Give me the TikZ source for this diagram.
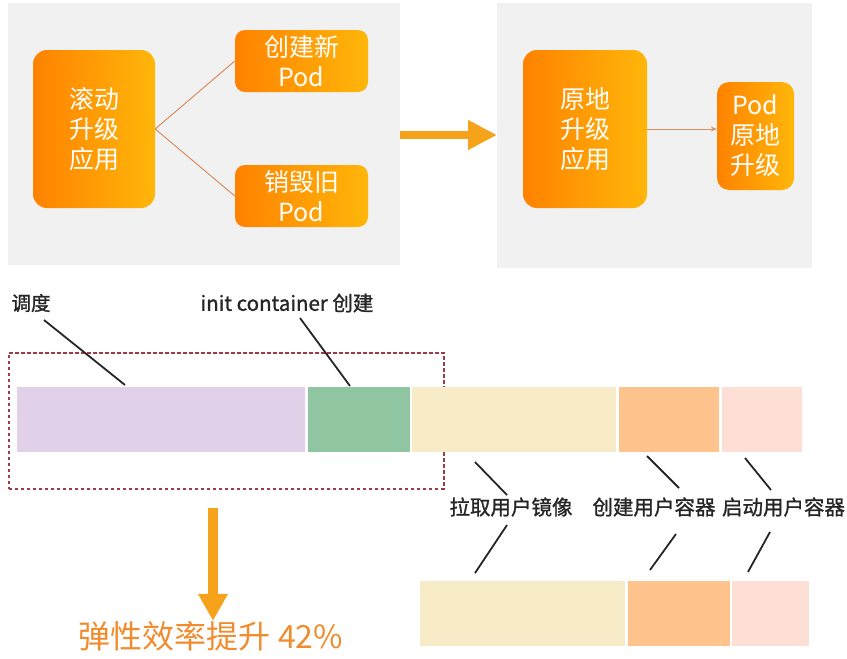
\documentclass[tikz,border=0pt]{standalone}
\usepackage{fontspec}
\setmainfont{Noto Sans CJK SC}
\newfontfamily\boldishfont[FakeBold=1.2]{Noto Sans CJK SC}
\usetikzlibrary{arrows.meta, positioning}
\definecolor{panelGray}{HTML}{F1F1F1}
\definecolor{orangeDeep}{HTML}{FF8200}
\definecolor{orangeLight}{HTML}{FFB60A}
\definecolor{linkBrown}{HTML}{D98E62}
\definecolor{arrowOrange}{HTML}{F7A21B}
\definecolor{frameRed}{HTML}{A33B45}
\definecolor{schedPurple}{HTML}{E0D1E9}
\definecolor{initGreen}{HTML}{8FC6A1}
\definecolor{pullYellow}{HTML}{F7ECC7}
\definecolor{createOrange}{HTML}{FFC48D}
\definecolor{startPink}{HTML}{FDDFD5}
\definecolor{gainOrange}{HTML}{F08C2E}
\newcommand{\bigFont}{\fontsize{25}{30}\selectfont}
\newcommand{\lblFont}{\boldishfont\fontsize{19.5}{22}\selectfont}

\begin{document}
\begin{tikzpicture}[x=1pt, y=-1pt,
  panel/.style={fill=panelGray, draw=none, inner sep=0pt},
  appbox/.style={rounded corners=14pt, left color=orangeDeep, right color=orangeLight,
    text=white, align=center, font=\bigFont, inner sep=0pt},
  bar/.style={draw=none, inner sep=0pt, minimum height=65pt},
  leader/.style={line width=1.8pt, black!85},
  lbl/.style={font=\lblFont, inner sep=0pt, text=black!85}]
  \useasboundingbox (0,0) rectangle (847,659);

  % top: rolling update vs in-place update
  \node[panel, minimum width=392pt, minimum height=262pt, anchor=north west] (leftPanel) at (8,3) {};
  \node[panel, minimum width=315pt, minimum height=265pt, anchor=north west] (rightPanel) at (497,3) {};

  \node[appbox, minimum width=122pt, minimum height=158pt] (rollApp) at (94,129) {滚动\\升级\\应用};
  \node[appbox, rounded corners=10pt, minimum width=133pt, minimum height=62pt] (newPod) at (301.5,61) {创建新\\Pod};
  \node[appbox, rounded corners=10pt, minimum width=133pt, minimum height=62pt] (oldPod) at (301.5,196) {销毁旧\\Pod};
  \draw[linkBrown, line width=1pt] (rollApp.east) -- (newPod.west);
  \draw[linkBrown, line width=1pt] (rollApp.east) -- (oldPod.west);

  \node[appbox, minimum width=124pt, minimum height=158pt] (inplaceApp) at (585,129) {原地\\升级\\应用};
  \node[appbox, rounded corners=12pt, minimum width=77pt, minimum height=108pt] (podBox) at (755.5,136) {Pod\\原地\\升级};
  \draw[linkBrown, line width=1pt, -{Stealth[length=6pt, width=5pt]}] (inplaceApp.east) -- (inplaceApp.east -| podBox.west);

  \draw[arrowOrange, line width=8pt, -{Triangle[length=29pt, width=28pt]}] (leftPanel.east |- 0,135) -- (rightPanel.west |- 0,135);

  % bottom: pod start timeline
  \node[draw=frameRed, line width=1.5pt, dash pattern=on 3.5pt off 2.5pt, minimum width=435pt, minimum height=136pt,
    anchor=north west, inner sep=0pt] (selFrame) at (8,352) {};

  \node[bar, fill=schedPurple, minimum width=288pt, anchor=north west] (schedBar) at (17,387) {};
  \node[bar, fill=initGreen, minimum width=102pt, right=2pt of schedBar] (initBar) {};
  \node[bar, fill=pullYellow, minimum width=204pt, right=2pt of initBar] (pullBar) {};
  \node[bar, fill=createOrange, minimum width=100pt, right=3pt of pullBar] (createBar) {};
  \node[bar, fill=startPink, minimum width=80pt, right=2pt of createBar] (startBar) {};

  \node[bar, fill=pullYellow, minimum width=205pt, anchor=north west] (pullBarB) at (420,581) {};
  \node[bar, fill=createOrange, minimum width=102pt, right=2pt of pullBarB] (createBarB) {};
  \node[bar, fill=startPink, minimum width=77pt, right=2pt of createBarB] (startBarB) {};

  \node[lbl] (schedLbl) at (31,303) {调度};
  \node[lbl, font=\boldishfont\fontsize{20.5}{24}\selectfont] (initLbl) at (287,303) {init container 创建};
  \node[lbl, font=\boldishfont\fontsize{20.5}{24}\selectfont] (pullLbl) at (511,507) {拉取用户镜像};
  \node[lbl, font=\boldishfont\fontsize{20.5}{24}\selectfont] (createLbl) at (654,507) {创建用户容器};
  \node[lbl, font=\boldishfont\fontsize{20.5}{24}\selectfont] (startLbl) at (783.5,507) {启动用户容器};

  \coordinate (schedA) at (44,320);   \coordinate (schedB) at (125,385);
  \coordinate (initA) at (300,318);   \coordinate (initB) at (350,386);
  \draw[leader] (schedA) -- (schedB);
  \draw[leader] (initA) -- (initB);
  \foreach \na/\xa/\ya/\xb/\yb in {pullUp/475/462/507/495, createUp/647/456/679/488, startUp/745/458/771/490,
      pullDn/507/525/475/573, createDn/676/534/650/570, startDn/770/532/748/572} {
    \coordinate (\na A) at (\xa,\ya);
    \coordinate (\na B) at (\xb,\yb);
    \draw[leader] (\na A) -- (\na B);
  }

  \node[text=gainOrange, font=\fontsize{32}{36}\selectfont, inner sep=0pt] (gain) at (211,636) {弹性效率提升 42\%};
  \coordinate (gainTop) at (213,508);
  \draw[arrowOrange, line width=10pt, -{Triangle[length=27pt, width=28pt]}] (gainTop) -- (gainTop |- gain.north);
\end{tikzpicture}
\end{document}
